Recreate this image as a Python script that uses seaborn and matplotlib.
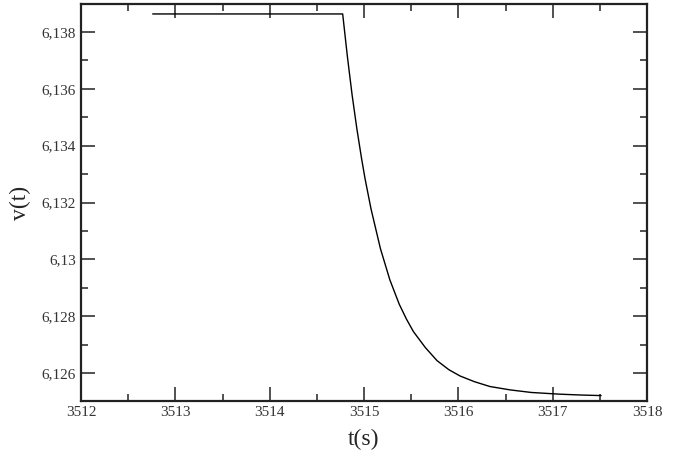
import seaborn as sns
import pandas as pd
import matplotlib.pyplot as plt
from matplotlib.ticker import MultipleLocator

# values
t = [3512.76, 3513.5, 3514.2, 3514.774, 3514.824, 3514.874, 3514.924, 3514.974,
     3515.011, 3515.074, 3515.174, 3515.274, 3515.374, 3515.45, 3515.524, 3515.65,
     3515.774, 3515.9, 3516.018, 3516.17, 3516.334, 3516.55, 3516.774, 3517.074,
     3517.3, 3517.513]
v = [6.13863, 6.13863, 6.13863, 6.13863, 6.13713, 6.13578, 6.13460, 6.13355,
     6.13284, 6.13178, 6.13038, 6.12928, 6.12842, 6.12790, 6.12746, 6.12690,
     6.12644, 6.12612, 6.12590, 6.12570, 6.12553, 6.12541, 6.12532, 6.12526,
     6.12523, 6.12521]

x_ticks = [3512, 3513, 3514, 3515, 3516, 3517, 3518]
y_ticks = [6.126, 6.128, 6.13, 6.132, 6.134, 6.136, 6.138]
y_labels = ["6,126", "6,128", "6,13", "6,132", "6,134", "6,136", "6,138"]

df = pd.DataFrame({"t": t, "v": v})

sns.set_style("ticks")
plt.rcParams['font.family'] = ['Liberation Serif', 'DejaVu Serif']

fig = plt.figure(figsize=(6.89, 4.58), dpi=100)
ax = fig.add_axes([81 / 689, 1 - 401 / 458, 566 / 689, 397 / 458])

sns.lineplot(data=df, x="t", y="v", color="black", linewidth=1.0, ax=ax)

ax.set_xlim(3512, 3518)
ax.set_ylim(6.12502, 6.13898)
ax.set_xticks(x_ticks)
ax.set_xticklabels([str(x) for x in x_ticks])
ax.set_yticks(y_ticks)
ax.set_yticklabels(y_labels)
ax.xaxis.set_minor_locator(MultipleLocator(0.5))
ax.yaxis.set_minor_locator(MultipleLocator(0.001))

ax.tick_params(which="both", direction="in", top=True, right=True,
               labelsize=11, colors="#333333", width=1.2)
ax.tick_params(which="major", length=10)
ax.tick_params(which="minor", length=5)
for s in ax.spines.values():
    s.set_linewidth(1.6)
    s.set_color("#222222")

ax.set_xlabel("t(s)", fontsize=17, labelpad=7)
ax.set_ylabel("v(t)", fontsize=17, labelpad=8)

fig.savefig("out.png", dpi=100)
